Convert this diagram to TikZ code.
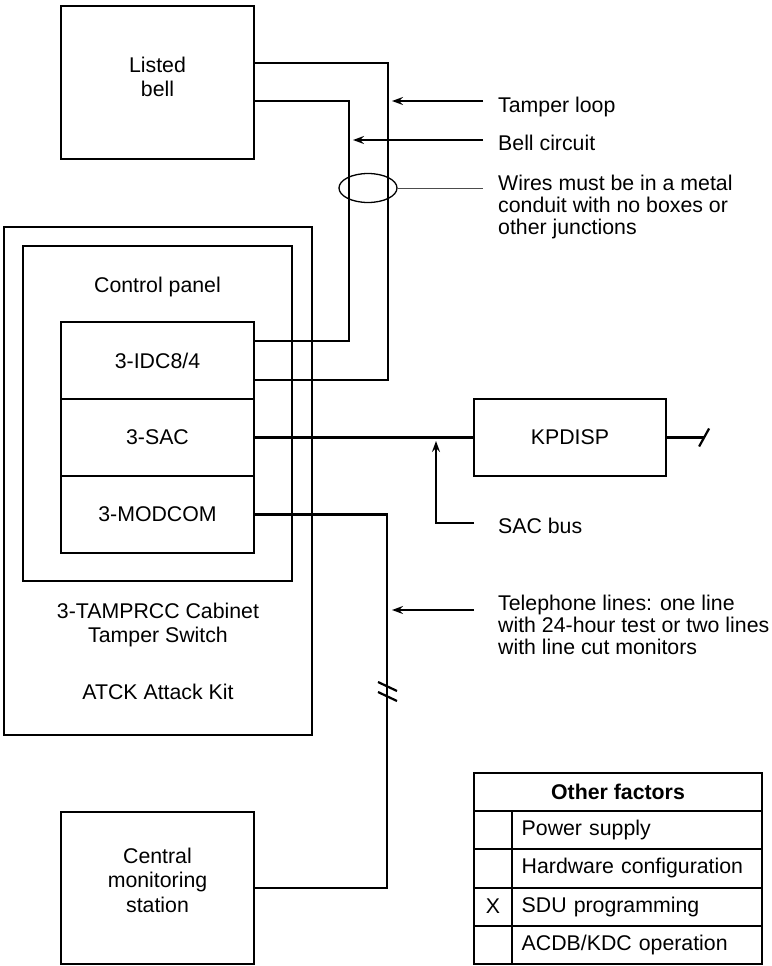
\documentclass[tikz,border=0pt]{standalone}
\usepackage{fontspec}
\setmainfont{Liberation Sans}
\usetikzlibrary{arrows.meta, positioning, calc, shapes.geometric}
\newcommand{\diafont}{\fontsize{21.3}{24.5}\selectfont}

\begin{document}
\begin{tikzpicture}[
    x=1pt, y=-1pt,
    font=\diafont,
    unit/.style={draw, line width=2.2pt, minimum width=193pt, align=center, inner sep=0pt},
    wire/.style={line width=2.2pt},
    pointer/.style={line width=2pt, -{Stealth[length=11pt, width=8pt, inset=4pt]}},
    note/.style={anchor=north west, inner sep=0pt, align=left,
        font=\fontsize{21.3}{22.2}\selectfont},
    cell/.style={draw, line width=2pt, minimum height=38.2pt, inner sep=0pt},
]
\useasboundingbox (0,0) rectangle (771,966);

% ---- bell, cabinet and control panel ----
\node[unit, minimum height=153pt, text depth=11pt] (bell) at (157.5,82.5) {Listed\\bell};
\node[unit, minimum width=308pt, minimum height=508pt] (cabinet) at (158,481) {};
\node[unit, minimum width=269pt, minimum height=335pt] (panel) at (157.5,413.5) {};
\node (panellbl) at (157.5,287) {Control panel};
\node[unit, minimum height=77pt] (idc) at (157.5,360.5) {3-IDC8/4};
\node[unit, minimum height=77pt] (sac) at (157.5,437.5) {3-SAC};
\node[unit, minimum height=77pt] (modcom) at (157.5,514.5) {3-MODCOM};
\node[align=center] (tamperlbl) at (158,625) {3-TAMPRCC Cabinet\\Tamper Switch};
\node (atcklbl) at (158,692) {ATCK Attack Kit};

% ---- keypad and central station ----
\node[unit, minimum width=192pt, minimum height=77pt] (kpdisp) at (570,437.5) {KPDISP};
\node[unit, minimum height=152pt, text depth=16pt] (central) at (157.5,888)
    {Central\\monitoring\\station};

% ---- wiring ----
\draw[wire] (bell.east |- 0,63) -| (388,380) -- (idc.east |- 0,380);
\draw[wire] (bell.east |- 0,101) -| (349,341) -- (idc.east |- 0,341);
\draw[wire] (sac.east) -- (kpdisp.west);
\draw[wire] (kpdisp.east) -- ++(37,0) coordinate (kpend);
\draw[wire] ($(kpend)+(-5,9)$) -- ($(kpend)+(5,-9)$);
\draw[wire] (modcom.east) -| (387,888) -- (central.east);
\draw[wire] (378,682) -- (397,691) (378,692) -- (397,701);

% ---- callouts ----
\node[note] (nloop) at (498,96.5) {Tamper loop};
\node[note] (nbell) at (498,134.8) {Bell circuit};
\node[note] (nconduit) at (498,174.8) {Wires must be in a metal\\conduit with no boxes or\\other junctions};
\node[note] (nbus) at (498,517.8) {SAC bus};
\node[note] (nphone) at (498,594.8) {Telephone lines: one line\\with 24-hour test or two lines\\with line cut monitors};
\node[draw, ellipse, line width=1.3pt, minimum width=58pt, minimum height=29pt,
    inner sep=0pt] (conduit) at (368,188) {};

\draw[pointer] ($(nloop.west |- 0,101)+(-15,0)$) -- (392,101);
\draw[pointer] ($(nbell.west |- 0,140)+(-15,0)$) -- (353,140);
\draw[line width=1pt, black!70] (conduit.east) -- ($(nconduit.west |- conduit.east)+(-15,0)$);
\draw[pointer, line width=1.5pt] ($(nbus.west |- 0,523)+(-24,0)$) -| (436,441);
\draw[pointer] ($(nphone.west |- 0,610)+(-24,0)$) -- (392,610);

% ---- other factors ----
\node[cell, minimum width=288pt, font=\diafont\bfseries] (hdr) at (618,792) {Other factors};
\foreach \mk/\txt [count=\i] in {{}/Power supply, {}/Hardware configuration,
    X/SDU programming, {}/{ACDB/KDC operation}}{
    \node[cell, minimum width=38pt] (mk\i) at (493,{792+38.2*\i}) {\mk};
    \node[cell, text width=230.6pt, inner xsep=9.7pt, align=left] (fac\i)
        at (637,{792+38.2*\i}) {\txt};
}

\end{tikzpicture}
\end{document}
